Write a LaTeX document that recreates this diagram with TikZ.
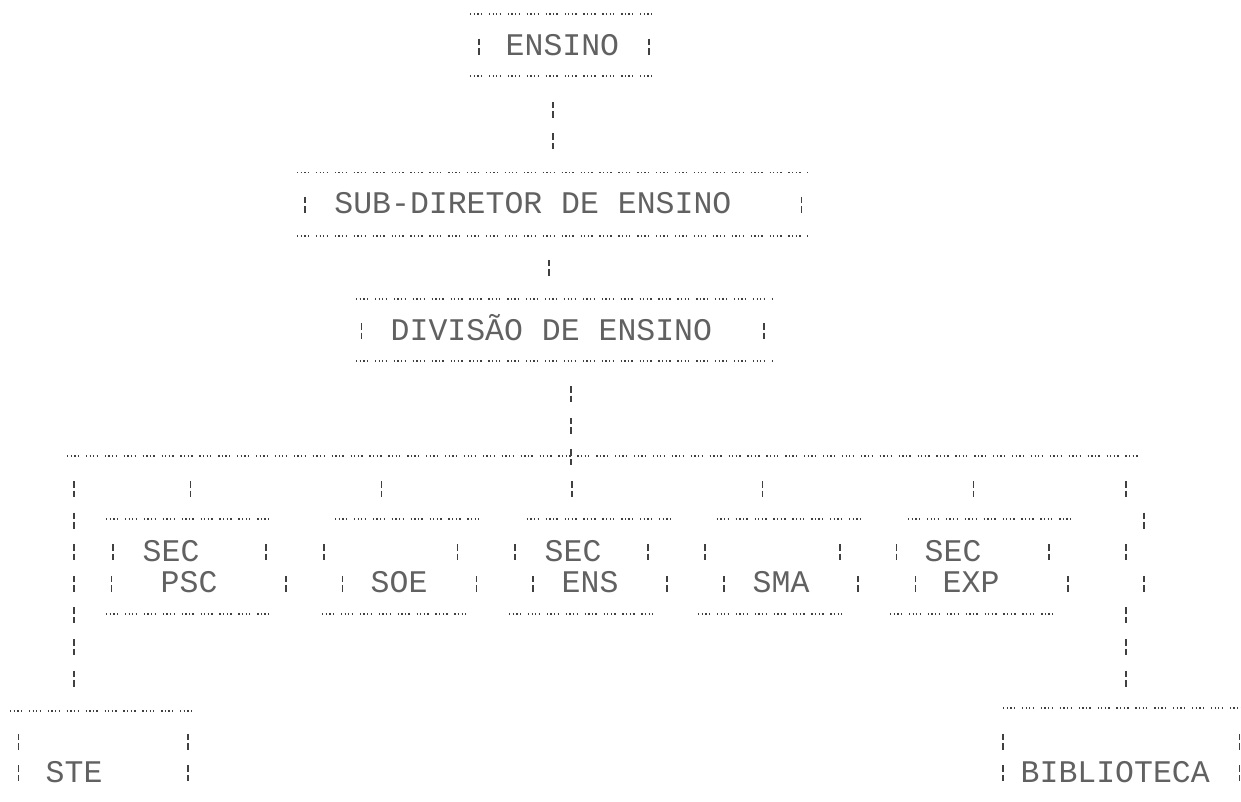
\documentclass[tikz,border=0pt]{standalone}
\usepackage{fontspec}
\newfontfamily\dm{Liberation Mono}
\tikzset{
  hdots/.style={draw=black!75, line width=1.2pt,
    dash pattern=on 1.3pt off 2.3pt on 1.3pt off 2.3pt on 1.3pt off 2.3pt on 1.3pt off 6.8pt},
  vbar/.style={draw=black!75, line width=1.5pt,
    dash pattern=on 6.5pt off 3pt on 6.5pt off 15.6pt},
  lbl/.style={font=\dm\fontsize{31.5}{31.5}\selectfont, text=black!62, inner sep=0pt, anchor=base west}
}
\newcommand\sidebar[2]{\draw[vbar] (#1,#2-8) -- (#1,#2+8);}
\newcommand\dotline[3]{\draw[hdots] (#1,#3) -- (#2,#3);}
\begin{document}
\begin{tikzpicture}[x=1pt,y=-1pt]
\fill[white] (0,0) rectangle (1241,802);
\useasboundingbox (0,0) rectangle (1241,802);

% ENSINO
\dotline{470}{658}{14}
\node[lbl] (ensino) at (505.5,55.6) {ENSINO};
\sidebar{479}{46.6} \sidebar{649}{46.6}
\dotline{470}{658}{76}
\coordinate (e1) at (553,101.8); \coordinate (e2) at (553,149.4);
\draw[vbar] (e1) -- (e2);

% SUB-DIRETOR
\dotline{297}{808}{172.7}
\node[lbl] (sub) at (334.2,213.6) {SUB-DIRETOR DE ENSINO};
\sidebar{305}{204.6} \sidebar{801.7}{204.6}
\dotline{297}{808}{236}
\coordinate (s1) at (549,259.8); \coordinate (s2) at (549,275.8);
\draw[vbar] (s1) -- (s2);

% DIVISAO
\dotline{356}{772}{299}
\node[lbl] (div) at (390.5,340) {DIVISÃO DE ENSINO};
\sidebar{361.7}{331} \sidebar{764}{331}
\dotline{356}{772}{361}
\coordinate (d1) at (571,386.2); \coordinate (d2) at (571,465.4);
\draw[vbar] (d1) -- (d2);

% bus
\coordinate (busL) at (67,456); \coordinate (busR) at (1138,456);
\draw[hdots] (busL) -- (busR);

% drops
\foreach \n/\x in {p/190.7,s/381.7,e/572,m/762.7,x/973.3}{
  \coordinate (drop\n a) at (\x,481);
  \coordinate (drop\n b) at (\x,497);
  \draw[vbar] (drop\n a) -- (drop\n b);
}
% left vertical
\coordinate (lv1) at (74,481); \coordinate (lv2) at (74,686.6);
\draw[vbar] (lv1) -- (lv2);
% right vertical (zig-zag)
\sidebar{1126}{489}
\sidebar{1144}{520.6}
\sidebar{1126}{552.2}
\sidebar{1144}{583.8}
\coordinate (rv1) at (1126,607.4); \coordinate (rv2) at (1126,686.6);
\draw[vbar] (rv1) -- (rv2);

% SEC PSC
\dotline{106}{275}{519}
\sidebar{113}{552.2} \sidebar{266}{552.2}
\sidebar{111.7}{583.8} \sidebar{286}{583.8}
\node[lbl] (psc1) at (142.5,561.2) {SEC};
\node[lbl] (psc2) at (160.5,592.8) {PSC};
\dotline{106}{275}{614}

% SOE
\dotline{335}{485}{519}
\sidebar{324}{552.2} \sidebar{457.7}{552.2}
\sidebar{342.7}{583.8} \sidebar{476.7}{583.8}
\node[lbl] (soe) at (370.5,592.8) {SOE};
\dotline{322}{467}{614}

% SEC ENS
\dotline{526.7}{677}{519}
\sidebar{515}{552.2} \sidebar{648}{552.2}
\sidebar{533}{583.8} \sidebar{667}{583.8}
\node[lbl] (ens1) at (544.5,561.2) {SEC};
\node[lbl] (ens2) at (561.5,592.8) {ENS};
\dotline{509}{657}{614}

% SMA
\dotline{716.7}{866}{519}
\sidebar{705}{552.2} \sidebar{840}{552.2}
\sidebar{724}{583.8} \sidebar{858}{583.8}
\node[lbl] (sma) at (752.5,592.8) {SMA};
\dotline{698}{848}{614}

% SEC EXP
\dotline{908}{1076}{519}
\sidebar{896.7}{552.2} \sidebar{1049}{552.2}
\sidebar{915.7}{583.8} \sidebar{1068}{583.8}
\node[lbl] (exp1) at (924.5,561.2) {SEC};
\node[lbl] (exp2) at (942.5,592.8) {EXP};
\dotline{890}{1057}{614}

% STE
\dotline{10}{198}{711}
\sidebar{18.3}{741.8} \sidebar{188}{741.8}
\sidebar{18.3}{773.4} \sidebar{188}{773.4}
\node[lbl] (ste) at (45.5,782.4) {STE};

% BIBLIOTECA
\dotline{1003}{1241}{708}
\sidebar{1003}{741.8} \sidebar{1239.5}{741.8}
\sidebar{1003}{773.4} \sidebar{1239.5}{773.4}
\node[lbl] (bib) at (1020.5,782.4) {BIBLIOTECA};
\end{tikzpicture}
\end{document}
